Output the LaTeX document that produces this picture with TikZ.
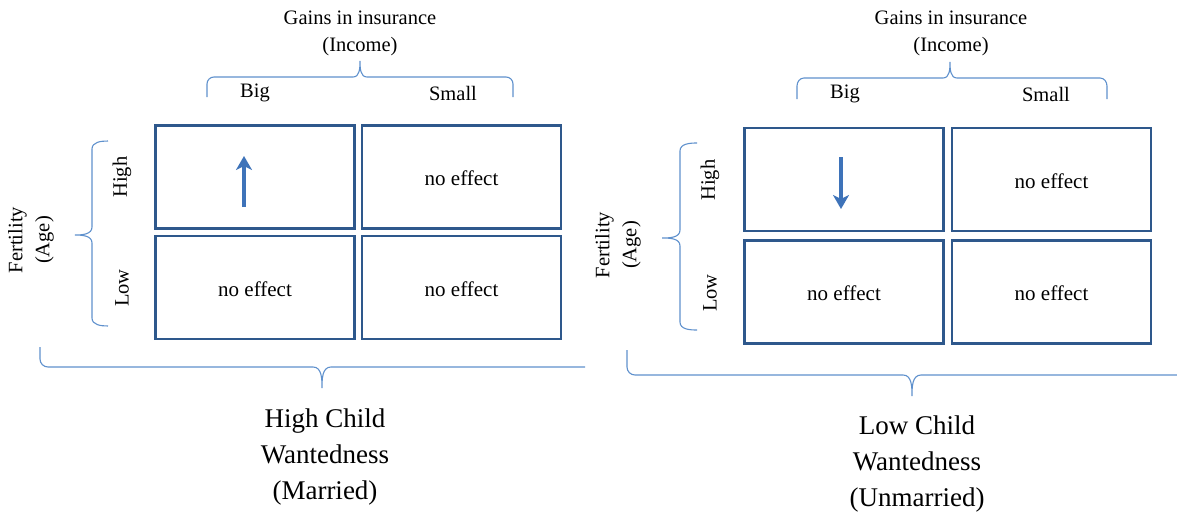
\documentclass[tikz,border=0pt]{standalone}
\usepackage{fontspec}
\setmainfont{Liberation Serif}
\usetikzlibrary{arrows.meta}
\definecolor{boxblue}{RGB}{46,88,140}
\definecolor{braceblue}{RGB}{95,145,205}
\definecolor{arrowblue}{RGB}{62,115,185}
\begin{document}
\begin{tikzpicture}[x=1pt,y=-1pt,
  cell/.style={draw=boxblue, line width=2.2pt, minimum width=199pt, minimum height=103pt, inner sep=0pt, text height=17pt, text depth=0pt, font=\fontsize{21}{25}\selectfont},
  br/.style={draw=braceblue, line width=1.1pt},
  lab/.style={font=\fontsize{20.5}{27}\selectfont, align=center, inner sep=0pt},
  biglab/.style={font=\fontsize{27}{36}\selectfont, align=center, inner sep=0pt},
  effarrow/.style={draw=arrowblue, line width=3.8pt, -{Stealth[length=14pt,width=16pt,inset=4pt]}}]
\useasboundingbox (0,0) rectangle (1177,517);

% ---------------- left panel ----------------
\node[lab] (gl) at (360,33) {Gains in insurance\\(Income)};
\node[lab] (bigl) at (255,93) {Big};
\node[lab] (smalll) at (453,93) {Small};
\draw[br] (207,97) -- (207,84) to[out=90,in=180] (214,77) -- (353,77)
  to[out=0,in=-90] (360,61) to[out=-90,in=180] (367,77) -- (506,77)
  to[out=0,in=90] (513,84) -- (513,97);

\node[cell] (l11) at (255,177) {};
\node[cell] (l12) at (461.5,177) {no effect};
\node[cell] (l21) at (255,287.5) {no effect};
\node[cell] (l22) at (461.5,287.5) {no effect};
\coordinate (lua) at (244,207);
\coordinate (lub) at (244,156);
\draw[effarrow] (lua) -- (lub);

\node[lab, rotate=90] (highl) at (122,177) {High};
\node[lab, rotate=90] (lowl) at (122,288) {Low};
\draw[br] (108,141) to[out=180,in=90] (92,149) -- (92,227)
  to[out=-90,in=0] (75,235) to[out=0,in=90] (92,243) -- (92,318)
  to[out=-90,in=180] (108,326);
\node[lab, rotate=90] (fertl) at (31,240) {Fertility\\(Age)};

\draw[br] (40,347) -- (40,359) to[out=-90,in=180] (48,367) -- (313,367)
  to[out=0,in=90] (322,388) to[out=90,in=180] (331,367) -- (585,367);
\node[biglab] (cwl) at (325,457) {High Child\\Wantedness\\(Married)};

% ---------------- right panel ----------------
\node[lab] (gr) at (951,33) {Gains in insurance\\(Income)};
\node[lab] (bigr) at (845,94) {Big};
\node[lab] (smallr) at (1046,94) {Small};
\draw[br] (797,99) -- (797,86) to[out=90,in=180] (804,78) -- (943,78)
  to[out=0,in=-90] (950,62) to[out=-90,in=180] (957,78) -- (1100,78)
  to[out=0,in=90] (1107,86) -- (1107,99);

\node[cell] (r11) at (844,179.5) {};
\node[cell] (r12) at (1051.5,179.5) {no effect};
\node[cell] (r21) at (844,292) {no effect};
\node[cell] (r22) at (1051.5,292) {no effect};
\coordinate (rda) at (841,157);
\coordinate (rdb) at (841,209);
\draw[effarrow] (rda) -- (rdb);

\node[lab, rotate=90] (highr) at (710,180) {High};
\node[lab, rotate=90] (lowr) at (710,293) {Low};
\draw[br] (697,143) to[out=180,in=90] (680,151) -- (680,230)
  to[out=-90,in=0] (662,238) to[out=0,in=90] (680,246) -- (680,322)
  to[out=-90,in=180] (697,330);
\node[lab, rotate=90] (fertr) at (618,245) {Fertility\\(Age)};

\draw[br] (627,350) -- (627,367) to[out=-90,in=180] (635,375) -- (903,375)
  to[out=0,in=90] (912,396) to[out=90,in=180] (921,375) -- (1177,375);
\node[biglab] (cwr) at (917,464) {Low Child\\Wantedness\\(Unmarried)};
\end{tikzpicture}
\end{document}
